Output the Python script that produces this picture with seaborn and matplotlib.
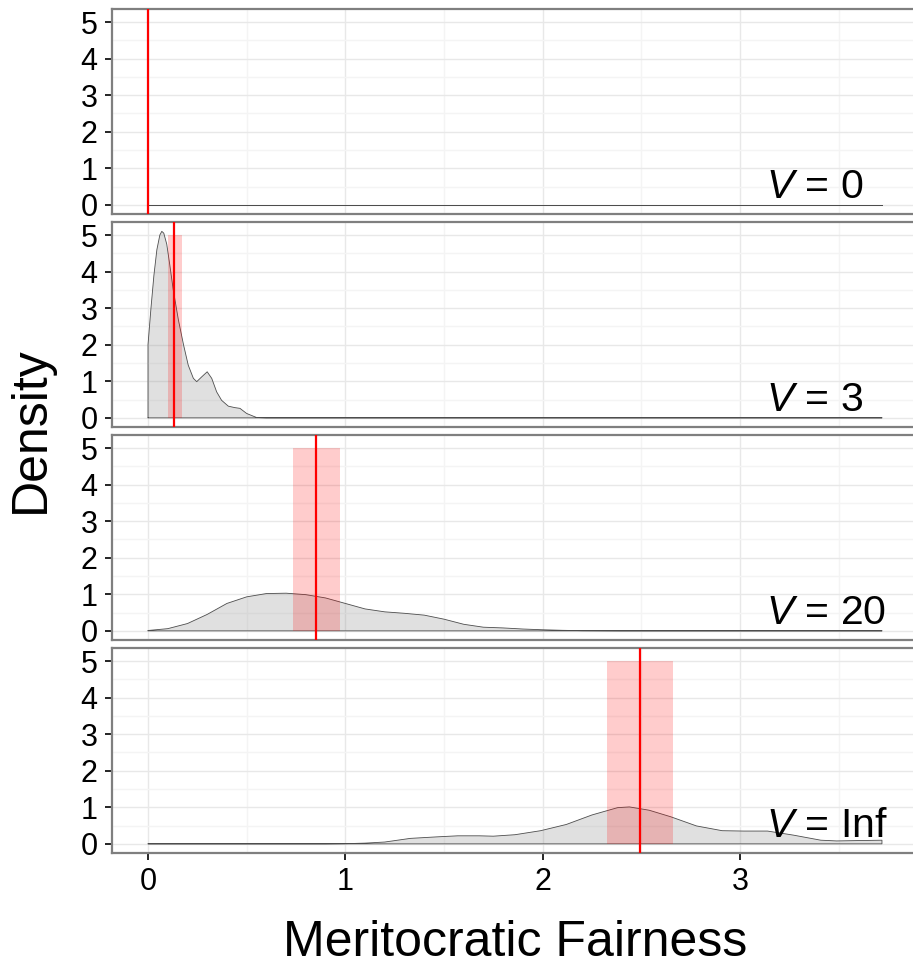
import numpy as np
import pandas as pd
import matplotlib
matplotlib.use("Agg")
import matplotlib.pyplot as plt
import seaborn as sns

# Density estimates of meritocratic fairness for each value of V
v_labels = ["0", "3", "20", "Inf"]

x_v0 = [0.0, 3.72]
y_v0 = [0.0, 0.0]

x_v3 = [0.0, 0.015, 0.03, 0.045, 0.06, 0.07, 0.08, 0.095, 0.11, 0.128, 0.154, 0.18,
        0.204, 0.23, 0.247, 0.272, 0.30, 0.323, 0.348, 0.373, 0.407, 0.44, 0.466,
        0.50, 0.55, 0.60, 3.72]
y_v3 = [2.0, 3.0, 3.9, 4.6, 5.0, 5.1, 5.05, 4.75, 4.2, 3.5, 2.68, 2.0,
        1.44, 1.08, 0.99, 1.12, 1.26, 1.08, 0.71, 0.48, 0.32, 0.28, 0.26,
        0.12, 0.01, 0.0, 0.0]

x_v20 = [0.0, 0.1, 0.2, 0.3, 0.4, 0.5, 0.6, 0.7, 0.8, 0.9, 1.0, 1.1, 1.2, 1.3,
         1.4, 1.5, 1.6, 1.7, 1.8, 1.9, 2.0, 2.1, 2.2, 2.4, 3.72]
y_v20 = [0.01, 0.06, 0.2, 0.45, 0.75, 0.93, 1.02, 1.03, 0.99, 0.9, 0.75, 0.6, 0.52,
         0.48, 0.43, 0.32, 0.18, 0.1, 0.08, 0.05, 0.03, 0.015, 0.005, 0.0, 0.0]

x_vinf = [0.0, 0.9, 1.0, 1.1, 1.2, 1.33, 1.46, 1.57, 1.68, 1.75, 1.86, 1.99, 2.12,
          2.25, 2.38, 2.44, 2.54, 2.65, 2.78, 2.91, 3.02, 3.14, 3.27, 3.41, 3.49,
          3.6, 3.72]
y_vinf = [0.0, 0.0, 0.005, 0.02, 0.05, 0.15, 0.19, 0.22, 0.22, 0.21, 0.25, 0.36, 0.53,
          0.79, 0.99, 1.01, 0.92, 0.74, 0.49, 0.36, 0.35, 0.35, 0.24, 0.1, 0.08,
          0.09, 0.1]

curves_x = [x_v0, x_v3, x_v20, x_vinf]
curves_y = [y_v0, y_v3, y_v20, y_vinf]

# Mean fairness and its interval for each V
means = [0.0, 0.132, 0.851, 2.496]
ci_low = [0.0, 0.10, 0.733, 2.325]
ci_high = [0.0, 0.171, 0.973, 2.661]
band_top = 5.0

x_ticks = [0, 1, 2, 3]
y_ticks = [0, 1, 2, 3, 4, 5]

sns.set_style("white")
plt.rcParams["font.family"] = ["Liberation Sans", "DejaVu Sans"]
plt.rcParams["mathtext.fontset"] = "custom"
plt.rcParams["mathtext.it"] = "Liberation Sans:italic"
plt.rcParams["mathtext.rm"] = "Liberation Sans"
plt.rcParams["text.color"] = "black"
plt.rcParams["xtick.color"] = "black"
plt.rcParams["ytick.color"] = "black"
plt.rcParams["xtick.labelcolor"] = "black"
plt.rcParams["ytick.labelcolor"] = "black"

W, H = 913, 966
fig = plt.figure(figsize=(W / 100, H / 100), dpi=100)

left_px = 112
right_px = 918
panel_h = 205
px_per_unit = 197.3
x_lo = (left_px - 148) / px_per_unit
x_hi = (right_px - 148) / px_per_unit

axes = []
for i in range(4):
    top_px = 9 + i * 213
    ax = fig.add_axes([left_px / W, 1 - (top_px + panel_h) / H,
                       (right_px - left_px) / W, panel_h / H])
    axes.append(ax)

    ax.set_xlim(x_lo, x_hi)
    ax.set_ylim(-0.25, 5.356)
    ax.set_xticks(x_ticks)
    ax.set_yticks(y_ticks)
    ax.set_xticks([0.5, 1.5, 2.5, 3.5], minor=True)
    ax.set_yticks([0.5, 1.5, 2.5, 3.5, 4.5], minor=True)
    ax.grid(which="major", color="#e8e8e8", lw=1.0)
    ax.grid(which="minor", color="#f4f4f4", lw=1.0)
    ax.set_axisbelow(True)

    xs = curves_x[i]
    ys = curves_y[i]
    poly_x = [xs[0]] + xs + [xs[-1], xs[0]]
    poly_y = [0.0] + ys + [0.0, 0.0]
    ax.fill(poly_x, poly_y, facecolor=(0.5, 0.5, 0.5, 0.24), edgecolor="none", zorder=2)
    outline = pd.DataFrame({"x": poly_x, "y": poly_y})
    sns.lineplot(data=outline, x="x", y="y", sort=False, estimator=None,
                 color="#4d4d4d", lw=0.6, ax=ax, zorder=3)

    if ci_high[i] > ci_low[i]:
        ax.fill_between([ci_low[i], ci_high[i]], 0, band_top, color="red",
                        alpha=0.2, linewidth=0, zorder=4)
    ax.axvline(means[i], color="red", lw=1.6, zorder=5)

    ax.text(3.13, 0.2, r"$\mathit{V}$ = " + v_labels[i], fontsize=29.5,
            color="black", ha="left", va="baseline", zorder=6)

    for s in ax.spines.values():
        s.set_color("#7f7f7f")
        s.set_linewidth(1.6)
        s.set_visible(True)

    ax.set_xlabel("")
    ax.set_ylabel("")
    ax.tick_params(axis="y", which="major", length=5, width=1.2, color="black",
                   labelcolor="black", labelsize=22, pad=5.5, left=True)
    ax.tick_params(axis="y", which="minor", length=0)
    ax.tick_params(axis="x", which="minor", length=0)
    if i < 3:
        ax.tick_params(axis="x", which="major", length=0, labelbottom=False, bottom=False)
    else:
        ax.tick_params(axis="x", which="major", length=5, width=1.2, color="black",
                       labelcolor="black", labelsize=22, pad=5, bottom=True)

fig.text(515 / W, 1 - 956 / H, "Meritocratic Fairness", fontsize=36,
         color="black", ha="center", va="baseline")
fig.text(31 / W, 1 - 430 / H, "Density", fontsize=36, rotation=90,
         color="black", ha="center", va="center")

fig.savefig("out.png", dpi=100)
